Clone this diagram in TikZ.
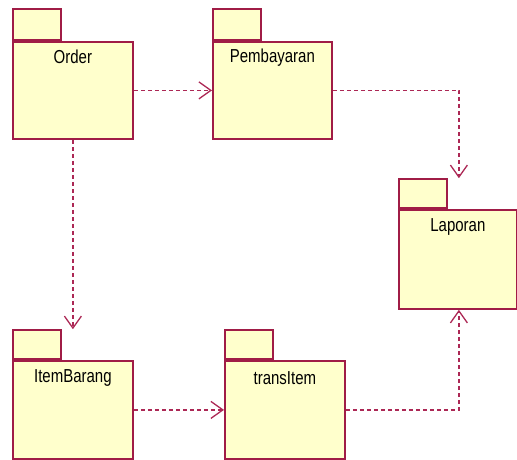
\documentclass[tikz,border=0pt]{standalone}
\usepackage{fontspec}
\setmainfont{Liberation Sans}
\usetikzlibrary{arrows.meta}
\definecolor{pkgline}{RGB}{160,28,70}
\definecolor{depline}{RGB}{172,40,85}
\definecolor{pkgfill}{RGB}{255,255,204}
\tikzset{
  pkgbody/.style={draw=pkgline, fill=pkgfill, line width=1.8pt, rectangle,
    minimum width=120pt, minimum height=97pt, anchor=north west, inner sep=0pt},
  pkgtab/.style={draw=pkgline, fill=pkgfill, line width=1.8pt, rectangle,
    minimum width=48pt, minimum height=30pt, anchor=south west, inner sep=0pt},
  pkglabel/.style={font=\fontsize{15pt}{17pt}\selectfont, yscale=1.25, transform shape,
    anchor=center, inner sep=0pt},
  dep/.style={draw=depline, line width=1.4pt, dash pattern=on 4pt off 3pt,
    -{Straight Barb[length=12pt, width=17pt, line width=1.3pt]}},
}
\begin{document}
\begin{tikzpicture}[x=1pt, y=-1pt]
\useasboundingbox (0,0) rectangle (517,460);

% packages: body first, tab sitting on its upper left corner
\node[pkgbody] (order) at (12,41) {};
\node[pkgtab, minimum height=31pt] (ordertab) at (order.north west) {};
\node[pkglabel] (orderlbl) at ([yshift=-16pt]order.north) {Order};

\node[pkgbody, minimum width=119pt] (pemb) at (212,41) {};
\node[pkgtab, minimum height=31pt] (pembtab) at (pemb.north west) {};
\node[pkglabel] (pemblbl) at ([yshift=-17pt]pemb.north) {Pembayaran};

\node[pkgbody, minimum width=118pt, minimum height=99pt] (lap) at (398,209) {};
\node[pkgtab, minimum height=29pt] (laptab) at (lap.north west) {};
\node[pkglabel] (laplbl) at ([yshift=-18pt]lap.north) {Laporan};

\node[pkgbody, minimum height=98pt] (item) at (12,360) {};
\node[pkgtab, minimum height=29pt] (itemtab) at (item.north west) {};
\node[pkglabel] (itemlbl) at ([yshift=-18pt]item.north) {ItemBarang};

\node[pkgbody, minimum height=98pt] (trans) at (224,360) {};
\node[pkgtab, minimum height=29pt] (transtab) at (trans.north west) {};
\node[pkglabel] (translbl) at ([yshift=-18pt]trans.north) {transItem};

% dependencies
\draw[dep] (order.east) -- (pemb.west);
\draw[dep] (pemb.east) -| ([xshift=1pt]lap.north |- laptab.north);
\draw[dep] (order.south) -- (order.south |- itemtab.north);
\draw[dep] (item.east) -- (trans.west);
\draw[dep] (trans.east) -| ([xshift=1pt]lap.south);
\end{tikzpicture}
\end{document}
